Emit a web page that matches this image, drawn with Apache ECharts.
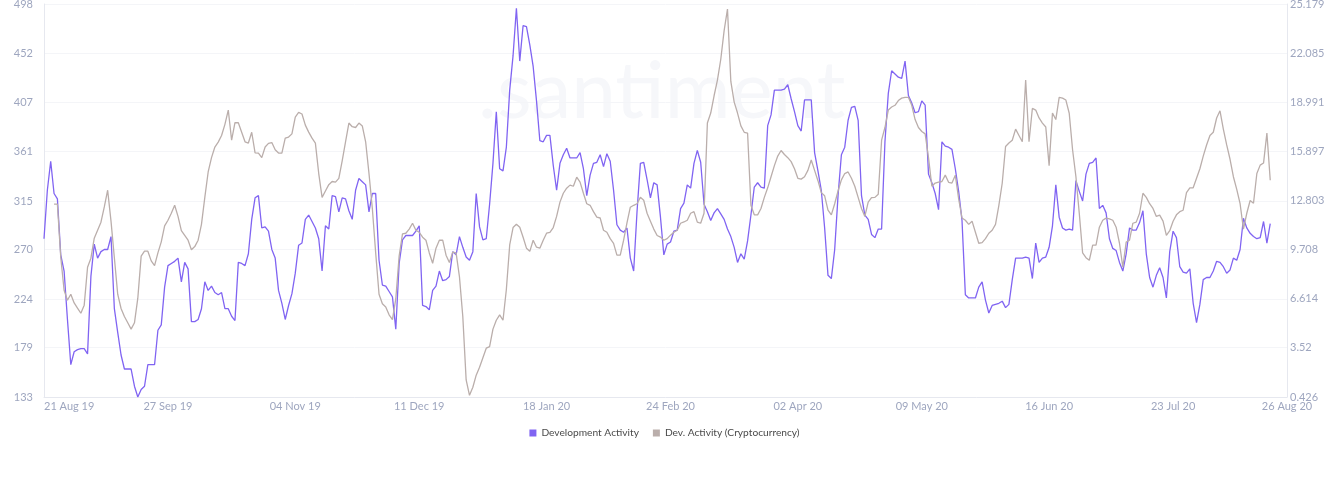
<!DOCTYPE html>
<html>
<head>
<meta charset="utf-8">
<title>Development Activity</title>
<script src="https://cdn.jsdelivr.net/npm/echarts@6.0.0/dist/echarts.min.js"></script>
<style>
    html, body { margin: 0; padding: 0; background: #fff; }
    #chart { width: 1329px; height: 501px; }
</style>
</head>
<body>
<div id="chart"></div>
<script>
// daily values from 21 Aug 2019
var startDay = Date.UTC(2019, 7, 21);
var axisEndDay = Date.UTC(2020, 7, 26);

var devActivity = [
    280, 325, 352, 322, 317, 265, 250, 205, 163, 175,
    177, 178, 178, 173, 245, 275, 262, 268, 270, 270,
    282, 215, 193, 172, 159, 159, 159, 143, 133, 140,
    143, 163, 163, 163, 195, 200, 235, 255, 257, 259,
    262, 240, 258, 252, 203, 203, 205, 215, 240, 232,
    236, 230, 228, 230, 215, 215, 208, 204, 258, 257,
    255, 266, 298, 318, 320, 290, 291, 287, 270, 262,
    232, 220, 205, 218, 229, 248, 274, 276, 298, 302,
    296, 290, 280, 250, 292, 289, 320, 319, 305, 318,
    317, 306, 298, 325, 336, 333, 330, 305, 322, 322,
    260, 237, 236, 231, 226, 196, 257, 279, 283, 283,
    283, 287, 292, 218, 217, 214, 232, 236, 250, 241,
    242, 245, 268, 265, 282, 272, 263, 260, 268, 322,
    291, 279, 280, 312, 350, 398, 345, 343, 365, 418,
    450, 494, 445, 478, 477, 460, 440, 408, 371, 370,
    376, 376, 348, 325, 350, 358, 364, 355, 355, 355,
    360, 345, 320, 339, 350, 351, 358, 347, 359, 352,
    325, 293, 288, 286, 290, 262, 250, 305, 350, 351,
    335, 318, 332, 330, 300, 265, 275, 277, 287, 288,
    308, 313, 330, 327, 350, 362, 351, 312, 305, 297,
    304, 308, 303, 298, 289, 282, 272, 258, 266, 261,
    278, 302, 328, 332, 328, 327, 385, 395, 418, 418,
    418, 419, 423, 410, 398, 385, 380, 409, 409, 409,
    360, 343, 325, 290, 246, 243, 270, 320, 358, 365,
    390, 402, 403, 390, 320, 302, 298, 284, 281, 289,
    289, 370, 415, 436, 433, 430, 429, 445, 413, 406,
    397, 398, 408, 404, 340, 332, 322, 307, 370, 366,
    365, 363, 345, 324, 297, 228, 225, 225, 225, 235,
    240, 223, 211, 218, 219, 220, 222, 216, 219, 242,
    262, 262, 262, 263, 262, 243, 276, 258, 262, 263,
    272, 292, 330, 300, 290, 288, 289, 288, 334, 324,
    315, 340, 350, 351, 355, 308, 311, 304, 280, 271,
    269, 258, 250, 266, 290, 288, 288, 295, 306, 266,
    244, 235, 246, 253, 244, 225, 268, 287, 281, 254,
    249, 248, 252, 220, 202, 219, 242, 244, 244, 250,
    259, 258, 254, 248, 251, 262, 260, 270, 299, 290,
    285, 282, 280, 281, 296, 276, 294
];

var devActivityCrypto = [
    null, null, null, 12.57, 12.57, 9.23, 7.15, 6.52, 6.9, 6.35,
    6.02, 5.7, 6.21, 8.6, 9.17, 10.43, 10.93, 11.44, 12.4, 13.45,
    11.5, 9.2, 6.9, 6.0, 5.5, 5.1, 4.7, 5.1, 6.65, 9.3,
    9.61, 9.61, 9.0, 8.7, 9.5, 10.2, 11.2, 11.56, 12.0, 12.5,
    11.8, 10.9, 10.6, 10.3, 9.7, 9.9, 10.3, 11.3, 13.0, 14.6,
    15.5, 16.17, 16.48, 16.9, 17.6, 18.5, 16.6, 17.7, 17.7, 17.1,
    16.5, 16.42, 17.1, 15.8, 15.79, 15.5, 16.17, 16.4, 16.45, 16.0,
    15.79, 15.79, 16.73, 16.8, 17.0, 18.06, 18.35, 18.25, 17.55, 17.11,
    16.73, 16.42, 14.5, 13.0, 13.4, 13.8, 14.0, 13.96, 14.2, 15.3,
    16.5, 17.68, 17.45, 17.4, 17.68, 17.5, 16.5, 14.5, 12.3, 9.5,
    6.9, 6.3, 6.1, 5.6, 5.3, 6.6, 9.3, 10.7, 10.74, 11.0,
    11.37, 10.93, 10.8, 10.49, 10.3, 9.5, 8.85, 9.8, 10.3, 10.3,
    9.36, 8.9, 9.55, 9.5, 8.0, 5.5, 1.5, 0.53, 1.04, 1.8,
    2.3, 2.9, 3.5, 3.6, 4.7, 5.26, 5.6, 5.26, 7.2, 10.0,
    11.1, 11.31, 11.12, 10.49, 9.8, 9.6, 10.3, 9.86, 9.8, 10.3,
    10.74, 10.8, 11.1, 11.8, 12.7, 13.26, 13.58, 13.77, 13.7, 14.27,
    13.96, 13.26, 12.6, 12.5, 12.1, 11.75, 11.7, 10.93, 10.8, 10.4,
    10.1, 9.36, 9.36, 10.3, 11.4, 12.38, 12.5, 12.6, 13.0, 12.82,
    12.0, 11.5, 11.0, 10.6, 10.5, 10.3, 10.4, 10.62, 10.8, 10.93,
    11.37, 11.45, 11.56, 12.0, 12.1, 11.44, 11.37, 12.0, 17.68, 18.31,
    19.4, 20.39, 21.7, 23.5, 24.86, 20.3, 19.0, 18.31, 17.5, 17.1,
    17.05, 12.5, 11.9, 11.9, 12.3, 13.0, 13.6, 14.3, 15.0, 15.6,
    15.95, 15.7, 15.5, 15.25, 14.8, 14.2, 14.15, 14.3, 14.7, 15.35,
    14.7, 14.05, 13.3, 13.1, 12.2, 11.9, 12.6, 13.4, 14.1, 14.5,
    14.6, 14.2, 13.7, 13.0, 12.3, 11.8, 12.7, 12.98, 13.0, 13.2,
    16.6, 17.4, 18.5, 18.69, 18.8, 19.1, 19.25, 19.3, 19.3, 18.8,
    17.9, 17.4, 17.15, 17.0, 15.5, 13.7, 13.9, 13.96, 14.0, 14.4,
    13.95, 13.9, 14.4, 12.9, 11.7, 11.56, 11.3, 11.5, 10.8, 10.11,
    10.15, 10.4, 10.74, 10.93, 11.3, 12.5, 13.89, 16.2, 16.42, 16.6,
    17.3, 16.9, 16.5, 20.39, 16.5, 18.6, 18.5, 18.0, 17.68, 17.43,
    15.0, 18.31, 17.9, 19.3, 19.25, 19.13, 18.3, 16.0, 14.3, 12.0,
    9.5, 9.2, 9.04, 9.99, 9.99, 11.12, 11.56, 11.69, 11.65, 11.56,
    11.12, 10.11, 8.6, 10.18, 10.3, 11.37, 11.44, 12.0, 13.26, 13.0,
    12.6, 12.3, 11.8, 11.88, 11.5, 10.6, 10.9, 11.5, 11.9, 12.1,
    12.19, 13.3, 13.6, 13.6, 14.2, 14.8, 15.6, 16.3, 16.9, 17.1,
    18.0, 18.45, 17.3, 16.3, 15.4, 14.3, 13.5, 12.6, 11.0, 12.0,
    12.8, 12.63, 14.5, 15.03, 15.16, 17.05, 14.08
];

var xTickDates = ['2019-08-21', '2019-09-27', '2019-11-04', '2019-12-11', '2020-01-18',
    '2020-02-24', '2020-04-02', '2020-05-09', '2020-06-16', '2020-07-23', '2020-08-26'];
var leftTicks = [133, 179, 224, 270, 315, 361, 407, 452, 498];
var rightTicks = [0.426, 3.52, 6.614, 9.708, 12.803, 15.897, 18.991, 22.085, 25.179];

var months = ['Jan','Feb','Mar','Apr','May','Jun','Jul','Aug','Sep','Oct','Nov','Dec'];
var purple = '#8064f2';
var grey = '#baaeab';
var labelColor = '#9ea6bf';
var axisColor = '#e6e8ef';

function toTime(s) {
    var p = s.split('-');
    return Date.UTC(+p[0], +p[1] - 1, +p[2]);
}

function pairs(values) {
    return values.map(function(v, i) {
        return [startDay + i * 86400000, v];
    });
}

var chart = echarts.init(document.getElementById('chart'));

var option = {
    animation: false,
    textStyle: { fontFamily: 'Lato, "Open Sans", sans-serif' },
    grid: {
        left: 44,
        right: 42,
        top: 4,
        bottom: 104,
        containLabel: false,
        outerBoundsMode: 'none'
    },
    graphic: [{
        type: 'text',
        left: 478,
        top: 52,
        z: -10,
        silent: true,
        style: {
            text: '.santiment',
            fontSize: 80,
            fontFamily: 'Lato, sans-serif',
            fill: '#f6f7fa'
        }
    }],
    legend: {
        top: 423,
        left: 'center',
        icon: 'rect',
        itemWidth: 7,
        itemHeight: 7,
        itemGap: 14,
        textStyle: { fontSize: 10.2, color: '#4a4a4a' },
        data: ['Development Activity', 'Dev. Activity (Cryptocurrency)']
    },
    xAxis: {
        // dates as timestamps on a value scale so the label dates can be set exactly
        type: 'value',
        min: startDay,
        max: axisEndDay,
        axisLine: { show: true, lineStyle: { color: axisColor } },
        axisTick: { show: false },
        splitLine: { show: false },
        axisLabel: {
            customValues: xTickDates.map(toTime),
            alignMinLabel: 'left',
            color: labelColor,
            fontSize: 11,
            margin: 4,
            formatter: function(v) {
                var d = new Date(v);
                var day = ('0' + d.getUTCDate()).slice(-2);
                var yy = String(d.getUTCFullYear()).slice(-2);
                return day + ' ' + months[d.getUTCMonth()] + ' ' + yy;
            }
        }
    },
    yAxis: [{
        type: 'value',
        position: 'left',
        min: 133,
        max: 498,
        axisLine: { show: true, lineStyle: { color: axisColor } },
        axisTick: { show: false, customValues: leftTicks },
        splitLine: { show: true, lineStyle: { color: '#f4f5f8' } },
        axisLabel: { customValues: leftTicks, color: labelColor, fontSize: 11, margin: 11 }
    }, {
        type: 'value',
        position: 'right',
        min: 0.426,
        max: 25.179,
        axisLine: { show: true, lineStyle: { color: axisColor } },
        axisTick: { show: false, customValues: rightTicks },
        splitLine: { show: false },
        axisLabel: {
            customValues: rightTicks,
            color: labelColor,
            fontSize: 11,
            margin: 3,
            formatter: function(v) { return String(v); }
        }
    }],
    series: [{
        name: 'Development Activity',
        type: 'line',
        yAxisIndex: 0,
        showSymbol: false,
        color: purple,
        lineStyle: { width: 1.3, color: purple },
        data: pairs(devActivity)
    }, {
        name: 'Dev. Activity (Cryptocurrency)',
        type: 'line',
        yAxisIndex: 1,
        showSymbol: false,
        color: grey,
        lineStyle: { width: 1.3, color: grey },
        data: pairs(devActivityCrypto)
    }]
};

chart.setOption(option);
</script>
</body>
</html>
